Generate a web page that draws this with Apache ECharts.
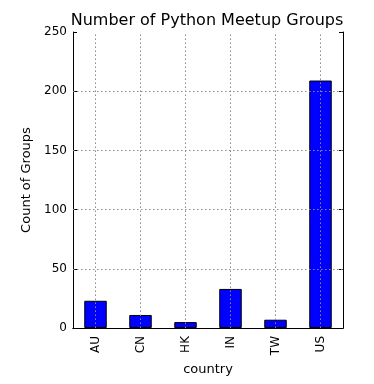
<!DOCTYPE html>
<html><head><meta charset="utf-8">
<script src="https://cdn.jsdelivr.net/npm/echarts@6/dist/echarts.min.js"></script>
<style>html,body{margin:0;padding:0;background:#fff}#c{width:374px;height:384px}</style>
</head><body><div id="c"></div>
<script>
const categories = ['AU', 'CN', 'HK', 'IN', 'TW', 'US'];
const counts = [23, 11, 5, 33, 7, 209];
const yTicks = [0, 50, 100, 150, 200, 250];

const chart = echarts.init(document.getElementById('c'), null, {renderer: 'canvas'});
const font = 'DejaVu Sans';
const gridStyle = {color: '#8a8a8a', type: [1.5, 2.5], width: 1};
const innerY = yTicks.filter(v => v > 0 && v < 250);
chart.setOption({
  animation: false,
  backgroundColor: '#fff',
  title: {text: 'Number of Python Meetup Groups', left: 202, textAlign: 'center', top: 8,
    textStyle: {fontFamily: font, fontSize: 16, fontWeight: 'normal', color: '#000'}},
  grid: {left: 73, top: 32, right: 31, bottom: 56},
  xAxis: [{
    type: 'category', data: categories, name: 'country', nameLocation: 'middle', nameGap: 34,
    nameTextStyle: {fontFamily: font, fontSize: 13, color: '#000'},
    axisLine: {lineStyle: {color: '#000', width: 1}},
    axisTick: {inside: true, alignWithLabel: true, length: 4, lineStyle: {color: '#000'}},
    axisLabel: {rotate: 90, fontFamily: font, fontSize: 12, color: '#000', margin: 8},
    splitLine: {show: false}
  }, {
    type: 'category', data: categories, position: 'top',
    axisLine: {lineStyle: {color: '#000', width: 1}},
    axisTick: {inside: true, alignWithLabel: true, length: 4, lineStyle: {color: '#000'}},
    axisLabel: {show: false}, splitLine: {show: false}
  }],
  yAxis: [{
    type: 'value', min: 0, max: 250, interval: 50, name: 'Count of Groups',
    nameLocation: 'middle', nameGap: 37, nameRotate: 90,
    nameTextStyle: {fontFamily: font, fontSize: 13, color: '#000'},
    axisLine: {show: true, lineStyle: {color: '#000', width: 1}},
    axisTick: {show: true, inside: true, length: 4, lineStyle: {color: '#000'}},
    axisLabel: {fontFamily: font, fontSize: 12, color: '#000', margin: 6,
      formatter: v => yTicks.includes(v) ? String(v) : ''},
    splitLine: {show: false}
  }, {
    type: 'value', min: 0, max: 250, interval: 50, position: 'right',
    axisLine: {show: true, lineStyle: {color: '#000', width: 1}},
    axisTick: {show: true, inside: true, length: 4, lineStyle: {color: '#000'}},
    axisLabel: {show: false}, splitLine: {show: false}
  }],
  series: [{
    type: 'bar', data: counts, barWidth: '50%',
    itemStyle: {color: '#0000ff', borderColor: '#000', borderWidth: 1},
    markLine: {
      silent: true, symbol: 'none', label: {show: false}, animation: false,
      lineStyle: gridStyle,
      data: categories.map(c => ({xAxis: c})).concat(innerY.map(v => ({yAxis: v})))
    }
  }]
});
</script></body></html>
